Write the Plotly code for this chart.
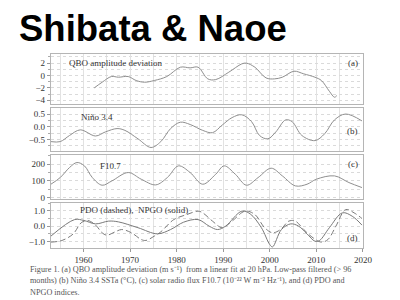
import plotly.graph_objects as go

# ---------------- data ----------------
qbo_years = [1962.3, 1964.0, 1966.0, 1967.5, 1969.6, 1971.3, 1973.1, 1975.2, 1977.9, 1980.8,
             1982.9, 1984.6, 1986.7, 1988.4, 1991.2, 1994.0, 1995.0, 1996.8, 1999.2, 2001.0,
             2002.7, 2005.2, 2007.3, 2009.7, 2011.1, 2012.8, 2013.9, 2014.4]
qbo_vals = [-2.0, -1.08, -0.16, -0.27, -0.16, -0.8, -1.08, -0.8, -0.16, 1.35,
            1.24, 1.35, -0.54, -0.65, 0.54, 1.89, 2.0, 1.35, -0.38, -0.54,
            -0.27, 0.7, 0.27, -0.27, -0.81, -2.54, -3.5, -3.24]

nino_years = [1953.0, 1955.0, 1957.0, 1959.3, 1962.6, 1964.7, 1967.2, 1968.9, 1971.7, 1974.5,
              1976.6, 1978.7, 1980.8, 1982.9, 1985.6, 1987.7, 1989.8, 1991.9, 1994.0, 1996.1,
              1997.8, 1999.6, 2001.3, 2003.4, 2004.8, 2006.9, 2009.7, 2011.8, 2013.9, 2016.3, 2019.8]
nino_vals = [-0.58, -0.58, -0.34, -0.12, -0.36, -0.2, -0.07, -0.14, -0.47, -0.81,
             -0.58, -0.07, 0.18, 0.09, -0.14, -0.23, 0.07, 0.36, 0.47, 0.2,
             -0.34, -0.47, -0.2, 0.27, 0.2, -0.34, -0.54, -0.27, 0.27, 0.5, 0.23]

f107_years = [1953.0, 1955.0, 1957.0, 1958.6, 1960.2, 1961.9, 1964.0, 1966.1, 1969.6, 1972.4,
              1975.5, 1978.0, 1980.4, 1982.9, 1985.6, 1988.4, 1990.2, 1992.6, 1995.0, 1997.5,
              2000.3, 2002.7, 2005.5, 2008.0, 2010.0, 2013.9, 2017.0, 2019.8]
f107_vals = [80, 120, 180, 210, 190, 120, 74, 100, 150, 110,
             76, 120, 190, 150, 80, 140, 190, 140, 74, 120,
             176, 130, 70, 80, 110, 130, 90, 60]

npgo_years = [1953.0, 1958.1, 1960.1, 1962.6, 1965.4, 1967.5, 1971.7, 1975.9, 1978.7, 1981.5,
              1984.6, 1987.0, 1988.8, 1990.5, 1994.0, 1995.8, 1998.2, 2000.0, 2000.6, 2002.5,
              2004.5, 2006.2, 2008.0, 2009.7, 2010.7, 2012.8, 2015.6, 2017.7, 2019.8]
npgo_vals = [-0.65, 0.43, 0.37, 0.15, 0.33, 0.28, -0.1, -0.5, -0.22, 0.26,
             0.43, 0.0, -0.22, 0.0, 0.98, 0.8, -0.1, -1.2, -1.35, -0.22,
             0.15, 0.0, -0.5, -0.98, -0.93, -0.1, 0.87, 0.65, 0.07]

pdo_years = [1953.0, 1955.4, 1957.8, 1959.5, 1960.9, 1962.6, 1964.0, 1965.0, 1966.8, 1968.2,
             1970.3, 1972.4, 1973.4, 1975.2, 1976.6, 1979.4, 1982.2, 1984.6, 1985.6, 1987.7,
             1989.8, 1991.9, 1994.7, 1996.8, 1998.9, 2000.6, 2002.3, 2004.1, 2005.5, 2007.3,
             2009.3, 2011.1, 2012.5, 2014.2, 2016.3, 2018.1, 2019.8]
pdo_vals = [-1.04, -0.93, -0.5, 0.22, 0.37, 0.07, -0.43, -0.59, -0.37, -0.22,
            -0.43, -0.87, -0.93, -0.65, -0.37, 0.43, 0.76, 0.98, 0.87, 0.33,
            -0.1, 0.33, 0.98, 0.76, -0.1, -0.43, -0.22, 0.33, 0.33, -0.22,
            -0.76, -1.04, -0.87, 0.0, 1.08, 0.87, 0.5]

x_ticks = [1960, 1970, 1980, 1990, 2000, 2010, 2020]

caption_lines = [
    "Figure 1. (a) QBO amplitude deviation (m s\u207b\u00b9)  from a linear fit at 20 hPa. Low-pass filtered (> 96",
    "months) (b) Ni\u00f1o 3.4 SSTa (\u00b0C), (c) solar radio flux F10.7 (10\u207b\u00b2\u00b2 W m\u207b\u00b2 Hz\u207b\u00b9), and (d) PDO and",
    "NPGO indices.",
]

# ---------------- figure ----------------
W, H = 400, 300
LINE = "#8f8f8f"
SERIF = "Liberation Serif, Times New Roman, serif"
TXT = "#333333"

def py(px):
    return 1 - px / H

fig = go.Figure()
fig.add_trace(go.Scatter(x=qbo_years, y=qbo_vals, mode="lines", line=dict(color=LINE, width=1, shape="spline"), xaxis="x", yaxis="y"))
fig.add_trace(go.Scatter(x=nino_years, y=nino_vals, mode="lines", line=dict(color=LINE, width=1, shape="spline"), xaxis="x2", yaxis="y2"))
fig.add_trace(go.Scatter(x=f107_years, y=f107_vals, mode="lines", line=dict(color=LINE, width=1, shape="spline"), xaxis="x3", yaxis="y3"))
fig.add_trace(go.Scatter(x=npgo_years, y=npgo_vals, mode="lines", line=dict(color="#7a7a7a", width=1, shape="spline"), xaxis="x4", yaxis="y4"))
fig.add_trace(go.Scatter(x=pdo_years, y=pdo_vals, mode="lines", line=dict(color="#7a7a7a", width=1, shape="spline", dash="6px,3px"), xaxis="x4", yaxis="y4"))

xdom = [44 / W, 364 / W]
panels = [  # (top px, bottom px, range, dtick, minor dtick)
    (46.5, 97, [-4.55, 3.5], 2, 1),
    (101.5, 145, [-0.95, 0.73], 0.5, 0.25),
    (149, 193.5, [-8, 255], 100, 50),
    (197.5, 243.5, [-1.44, 1.52], 1.0, 0.5),
]
tickfmts = ["d", ".1f", "d", ".1f"]

layout = dict(
    width=W, height=H, margin=dict(l=0, r=0, t=0, b=0),
    paper_bgcolor="white", plot_bgcolor="white", showlegend=False,
    font=dict(family=SERIF, size=9, color=TXT),
)
for i, (top, bot, rng, dt, mdt) in enumerate(panels):
    sfx = "" if i == 0 else str(i + 1)
    last = i == 3
    layout["xaxis" + sfx] = dict(
        domain=xdom, range=[1953, 2020], anchor="y" + sfx,
        tickmode="array", tickvals=x_ticks, showticklabels=last,
        ticks="outside" if last else "", ticklen=3, tickcolor="#999",
        showgrid=True, gridcolor="#e2e2e2", gridwidth=1,
        minor=dict(dtick=5, tick0=1955, showgrid=True, gridcolor="#e2e2e2", ticks=""),
        showline=True, mirror=True, linecolor="#b5b5b5", linewidth=1,
        zeroline=False, tickfont=dict(family=SERIF, size=9, color=TXT),
    )
    layout["yaxis" + sfx] = dict(
        domain=[py(bot), py(top)], range=rng, anchor="x" + sfx,
        dtick=dt, tick0=0, tickformat=tickfmts[i],
        ticks="outside", ticklen=3, tickcolor="#999",
        showgrid=True, gridcolor="#dadada", griddash="dot", gridwidth=1,
        minor=dict(dtick=mdt, tick0=0, showgrid=True, gridcolor="#dadada", griddash="dot",
                   ticks="outside", ticklen=2, tickcolor="#aaa"),
        showline=True, mirror=True, linecolor="#b5b5b5", linewidth=1,
        zeroline=False, tickfont=dict(family=SERIF, size=9, color=TXT),
    )
fig.update_layout(**layout)

def ann(text, xpx, ypx, size=9, xanchor="left", yanchor="middle", family=SERIF, color=TXT, bold=False, pad=1):
    fig.add_annotation(
        text=text, x=xpx / W, y=py(ypx), xref="paper", yref="paper",
        xanchor=xanchor, yanchor=yanchor, showarrow=False, borderpad=pad, borderwidth=0 if pad == 0 else 1,
        bordercolor="rgba(0,0,0,0)",
        font=dict(family=family, size=size, color=color, weight="bold" if bold else "normal"),
    )

ann("Shibata &amp; Naoe", 11, 0, size=36.5, yanchor="top", pad=0,
    family="Liberation Sans, Arial, sans-serif", color="#000", bold=True)
ann("QBO amplitude deviation", 60, 56)
ann("(a)", 361, 56, xanchor="right")
ann("Ni\u00f1o 3.4", 73, 110)
ann("(b)", 361, 125, xanchor="right")
ann("F10.7", 92, 160)
ann("(c)", 361, 158, xanchor="right")
ann("PDO (dashed),  NPGO (solid)", 72, 205)
ann("(d)", 361, 233, xanchor="right")

for k, line in enumerate(caption_lines):
    ann(line, 21, 265 + k * 11.5, size=8.2, color="#555")

fig.write_html("out.html")
